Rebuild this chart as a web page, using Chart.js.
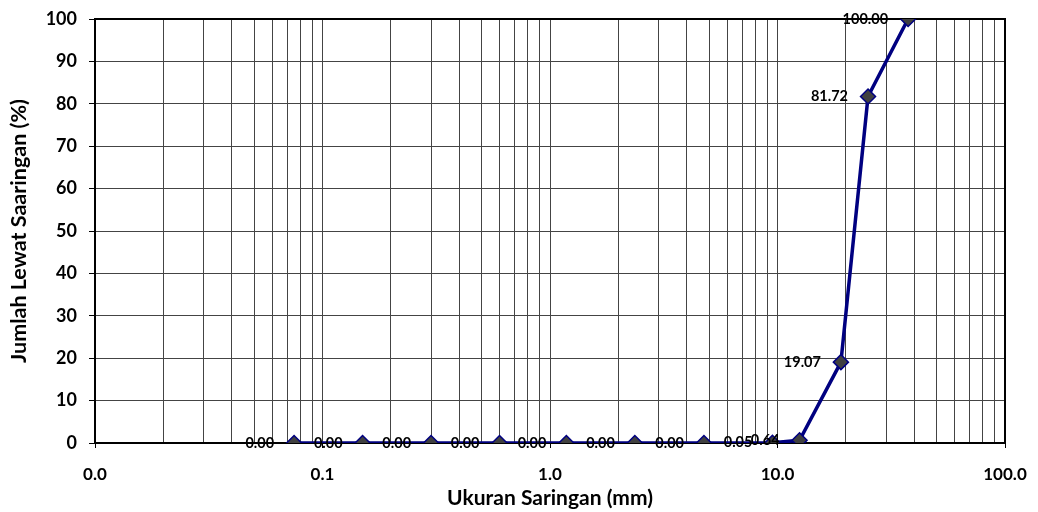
<!DOCTYPE html>
<html>
<head>
<meta charset="utf-8">
<script src="https://cdn.jsdelivr.net/npm/chart.js@4.4.1/dist/chart.umd.min.js"></script>
<style>
  html, body { margin: 0; padding: 0; background: #fff; }
  #wrap { width: 1038px; height: 512px; }
</style>
</head>
<body>
<div id="wrap"><canvas id="gradChart" width="1038" height="512"></canvas></div>
<script>
// sieve sizes (mm) and percent passing
const sieveSizes = [0.075, 0.15, 0.3, 0.6, 1.18, 2.36, 4.75, 9.5, 12.5, 19, 25, 37.5];
const percentPassing = [0, 0, 0, 0, 0, 0, 0, 0.05, 0.64, 19.07, 81.72, 100];
const xDecades = [0.01, 0.1, 1, 10, 100];
const yTicks = [0, 10, 20, 30, 40, 50, 60, 70, 80, 90, 100];

const FONT = 'Lato, "Open Sans", sans-serif';

const isDecade = v => xDecades.some(d => Math.abs(v - d) < d * 1e-6);

// labels to the left of each point, like excel "left" position
const pointLabels = {
    id: 'pointLabels',
    afterDatasetsDraw(chart) {
        const ctx = chart.ctx;
        const meta = chart.getDatasetMeta(0);
        ctx.save();
        ctx.font = 'bold 14.5px ' + FONT;
        ctx.fillStyle = '#000';
        ctx.textAlign = 'right';
        ctx.textBaseline = 'middle';
        meta.data.forEach((pt, i) => {
            ctx.fillText(percentPassing[i].toFixed(2), pt.x - 20, pt.y);
        });
        ctx.restore();
    }
};

// thick black frame around plot area
const plotFrame = {
    id: 'plotFrame',
    beforeDatasetsDraw(chart) {
        const a = chart.chartArea;
        const ctx = chart.ctx;
        ctx.save();
        ctx.strokeStyle = '#000';
        ctx.lineWidth = 2;
        ctx.strokeRect(a.left, a.top, a.right - a.left, a.bottom - a.top);
        ctx.restore();
    }
};

new Chart(document.getElementById('gradChart'), {
    type: 'scatter',
    data: {
        datasets: [{
            data: sieveSizes.map((s, i) => ({ x: s, y: percentPassing[i] })),
            showLine: true,
            borderColor: '#000080',
            borderWidth: 3.5,
            pointStyle: 'rectRot',
            pointRadius: 7.5,
            pointHoverRadius: 7.5,
            pointBackgroundColor: '#404040',
            pointBorderColor: '#000080',
            pointBorderWidth: 1.5
        }]
    },
    options: {
        responsive: false,
        animation: false,
        layout: { padding: { top: 19, right: 33, left: 0, bottom: 0 } },
        plugins: {
            legend: { display: false },
            tooltip: { enabled: false }
        },
        scales: {
            x: {
                type: 'logarithmic',
                min: 0.01,
                max: 100,
                afterBuildTicks(scale) {
                    const t = [];
                    for (let d = 0.01; d < 100; d *= 10) {
                        for (let k = 1; k < 10; k++) t.push({ value: +(d * k).toPrecision(3) });
                    }
                    t.push({ value: 100 });
                    scale.ticks = t;
                },
                afterFit(scale) {
                    scale.height = 69;
                    scale.paddingLeft = 0;
                    scale.paddingRight = 0;
                },
                border: { display: false },
                grid: {
                    color: '#444',
                    lineWidth: 1,
                    tickLength: 5,
                    tickColor: ctx => isDecade(ctx.tick.value) ? '#000' : 'rgba(0,0,0,0)'
                },
                ticks: {
                    autoSkip: false,
                    maxRotation: 0,
                    padding: 16,
                    color: '#000',
                    font: { family: FONT, size: 17, weight: 'bold' },
                    callback: v => isDecade(v) ? v.toFixed(1) : ''
                },
                title: {
                    display: true,
                    text: 'Ukuran Saringan (mm)',
                    color: '#000',
                    font: { family: FONT, size: 21, weight: 'bold' },
                    padding: { top: 2, bottom: 1 }
                }
            },
            y: {
                min: 0,
                max: 100,
                afterBuildTicks(scale) {
                    scale.ticks = yTicks.map(v => ({ value: v }));
                },
                afterFit(scale) {
                    scale.width = 95;
                    scale.paddingTop = 0;
                    scale.paddingBottom = 0;
                },
                border: { display: false },
                grid: {
                    color: '#444',
                    lineWidth: 1,
                    tickLength: 6,
                    tickColor: '#000'
                },
                ticks: {
                    padding: 12,
                    color: '#000',
                    font: { family: FONT, size: 18, weight: 'bold' }
                },
                title: {
                    display: true,
                    text: 'Jumlah Lewat Saaringan (%)',
                    color: '#000',
                    font: { family: FONT, size: 21.5, weight: 'bold' },
                    padding: { top: 6, bottom: 0 }
                }
            }
        }
    },
    plugins: [plotFrame, pointLabels]
});
</script>
</body>
</html>
